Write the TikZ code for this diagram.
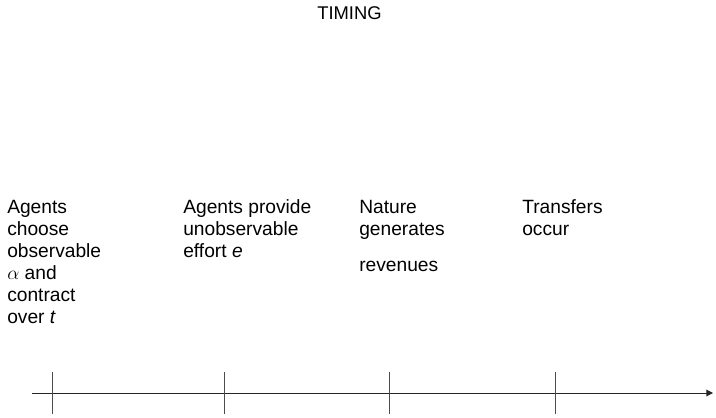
\documentclass[tikz,border=0pt]{standalone}
\usepackage{fontspec}
\setmainfont{Liberation Sans}
\usetikzlibrary{arrows.meta}
\begin{document}
\begin{tikzpicture}[x=0.75pt,y=-0.75pt,
  lbl/.style={anchor=north west, inner sep=0pt, align=left, font=\fontsize{14.4}{16.6}\selectfont},
  axisline/.style={line width=0.75pt, draw=black!85},
  tickline/.style={line width=0.75pt, draw=black!70}]
\useasboundingbox (0,0) rectangle (716,417);
\node[font=\fontsize{13.8}{16}\selectfont, anchor=base, inner sep=0pt] (title) at (349.5,20) {TIMING};
\node[lbl] (s1) at (7,197.5) {\strut Agents\\choose\\observable\\$\alpha$ and\\contract\\over \textit{t}};
\node[lbl] (s2) at (183,197.5) {\strut Agents provide\\unobservable\\effort \textit{e}};
\node[lbl] (s3) at (359,197.5) {\strut Nature\\generates\\[10.5pt]revenues};
\node[lbl] (s4) at (522,197.5) {\strut Transfers\\occur};
\coordinate (a0) at (32,393);
\coordinate (a1) at (713,393);
\draw[axisline, -{Triangle[length=5pt,width=5pt]}] (a0) -- (a1);
\foreach \i/\x in {1/52,2/224,3/389,4/555}{
  \coordinate (t\i top) at (\x,372);
  \coordinate (t\i bot) at (\x,414);
  \draw[tickline] (t\i top) -- (t\i bot);
}
\end{tikzpicture}
\end{document}
